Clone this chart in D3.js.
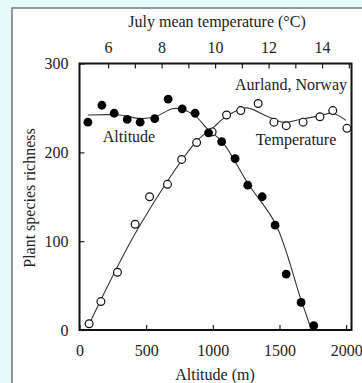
<!DOCTYPE html>
<html>
<head>
<meta charset="utf-8">
<script src="https://cdn.jsdelivr.net/npm/d3@7"></script>
<style>
  body { margin: 0; background: #e6fafa; }
  svg { display: block; }
  text { font-family: "Liberation Serif", "DejaVu Serif", serif; fill: #222; }
</style>
</head>
<body>
<script>
// species richness along the altitude gradient (filled dots)
var altitudeM = [63, 168, 260, 358, 455, 564, 665, 770, 867, 968, 1066, 1167, 1262, 1370, 1467, 1550, 1662, 1757];
var richnessByAltitude = [234, 253, 244, 237, 234, 238, 260, 249, 244, 222, 212, 193, 163, 150, 118, 63, 31, 5];

// same plots against July mean temperature (open dots)
var julyTemp = [5.29, 5.73, 6.35, 7.01, 7.55, 8.22, 8.75, 9.31, 9.89, 10.43, 10.96, 11.61, 12.2, 12.66, 13.29, 13.92, 14.4, 14.93];
var richnessByTemp = [7, 32, 65, 119, 150, 164, 192, 211, 223, 242, 247, 255, 234, 230, 234, 240, 247, 227];

// fitted curves
var altFitX = [63, 305, 455, 567, 695, 755, 867, 968, 1070, 1267, 1472, 1655, 1740];
var altFitY = [242, 242, 238, 240, 249, 249, 241, 225, 212, 164, 119, 37, 0];
var tempFitX = [5.28, 7.19, 9.32, 9.9, 10.3, 10.74, 11.19, 11.92, 12.53, 13.17, 13.91, 14.4, 14.89];
var tempFitY = [6, 118, 213, 227, 238, 246, 250, 241, 234, 237, 241, 244, 236];

var altTicks = [0, 500, 1000, 1500, 2000];
var richTicks = [0, 100, 200, 300];
var tempTicks = [6, 7, 8, 9, 10, 11, 12, 13, 14, 15];

var width = 362, height = 383;
var fs = "16px";

var svg = d3.select("body").append("svg")
    .attr("width", width)
    .attr("height", height);

// white panel
svg.append("rect")
    .attr("x", 12).attr("y", 8)
    .attr("width", 380).attr("height", 400)
    .attr("fill", "#fff")
    .attr("stroke", "#6b7b7b")
    .attr("stroke-width", 1.5);

var x = d3.scaleLinear().domain([0, 2040]).range([79.5, 351.5]);
var t = d3.scaleLinear().domain([4.93, 15.1]).range([79.5, 351.5]);
var y = d3.scaleLinear().domain([0, 300]).range([330, 63.5]);

function styleAxis(g) {
    g.select(".domain").remove();
    g.selectAll(".tick line").attr("stroke", "#222").attr("stroke-width", 1.2);
    g.selectAll(".tick text").style("font-size", fs).attr("fill", "#222");
}

svg.append("g")
    .attr("transform", "translate(0," + y(0) + ")")
    .call(d3.axisBottom(x).tickValues(altTicks).tickFormat(d3.format("d"))
        .tickSizeInner(-5).tickSizeOuter(0).tickPadding(15))
    .call(styleAxis);

svg.append("g")
    .attr("transform", "translate(" + x(0) + ",0)")
    .call(d3.axisLeft(y).tickValues(richTicks).tickSizeInner(-5).tickSizeOuter(0).tickPadding(11))
    .call(styleAxis);

svg.append("g")
    .attr("transform", "translate(0," + y(300) + ")")
    .call(d3.axisTop(t).tickValues(tempTicks).tickSizeInner(-5).tickSizeOuter(0).tickPadding(11)
        .tickFormat(function(d){ return d % 2 == 0 ? d : ""; }))
    .call(styleAxis);

// frame
svg.append("rect")
    .attr("x", x(0)).attr("y", y(300))
    .attr("width", x.range()[1] - x(0))
    .attr("height", y(0) - y(300))
    .attr("fill", "none")
    .attr("stroke", "#111")
    .attr("stroke-width", 2);

// fitted lines
var altLine = d3.line()
    .x(function(d){ return x(d[0]); })
    .y(function(d){ return y(d[1]); })
    .curve(d3.curveCatmullRom.alpha(0.5));
var tempLine = d3.line()
    .x(function(d){ return t(d[0]); })
    .y(function(d){ return y(d[1]); })
    .curve(d3.curveCatmullRom.alpha(0.5));

svg.append("path")
    .attr("d", altLine(d3.zip(altFitX, altFitY)))
    .attr("fill", "none").attr("stroke", "#333").attr("stroke-width", 1.1);
svg.append("path")
    .attr("d", tempLine(d3.zip(tempFitX, tempFitY)))
    .attr("fill", "none").attr("stroke", "#333").attr("stroke-width", 1.1);

// points
svg.append("g").selectAll("circle")
    .data(d3.zip(julyTemp, richnessByTemp))
    .enter().append("circle")
    .attr("cx", function(d){ return t(d[0]); })
    .attr("cy", function(d){ return y(d[1]); })
    .attr("r", 3.9)
    .attr("fill", "#fff")
    .attr("stroke", "#111")
    .attr("stroke-width", 1.2);

svg.append("g").selectAll("circle")
    .data(d3.zip(altitudeM, richnessByAltitude))
    .enter().append("circle")
    .attr("cx", function(d){ return x(d[0]); })
    .attr("cy", function(d){ return y(d[1]); })
    .attr("r", 4.4)
    .attr("fill", "#000");

// labels
svg.append("text")
    .attr("x", 217).attr("y", 27)
    .attr("text-anchor", "middle")
    .style("font-size", fs)
    .text("July mean temperature (°C)");

svg.append("text")
    .attr("x", 215).attr("y", 380)
    .attr("text-anchor", "middle")
    .style("font-size", fs)
    .text("Altitude (m)");

svg.append("text")
    .attr("transform", "translate(35,198) rotate(-90)")
    .attr("text-anchor", "middle")
    .style("font-size", fs)
    .text("Plant species richness");

svg.append("text")
    .attr("x", 347).attr("y", 90)
    .attr("text-anchor", "end")
    .style("font-size", fs)
    .text("Aurland, Norway");

svg.append("text")
    .attr("x", 129).attr("y", 142)
    .attr("text-anchor", "middle")
    .style("font-size", fs)
    .text("Altitude");

svg.append("text")
    .attr("x", 296).attr("y", 145)
    .attr("text-anchor", "middle")
    .style("font-size", fs)
    .text("Temperature");
</script>
</body>
</html>
